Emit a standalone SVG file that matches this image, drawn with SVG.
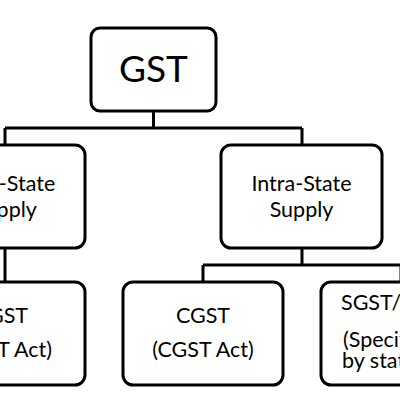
<svg xmlns="http://www.w3.org/2000/svg" width="400" height="400" viewBox="0 0 400 400">
<style>
.box{fill:#fff;stroke:#000;stroke-width:3}
.ln{fill:none;stroke:#000;stroke-width:3}
text{font-family:Lato,"Open Sans",sans-serif;fill:#000;font-size:21.5px;text-anchor:middle}
.s{text-anchor:start}
</style>
<rect width="400" height="400" fill="#fff"/>
<g id="connectors" class="ln">
<path d="M153.5,111 V128 M5,128 H302 M5,128 V145 M302,128 V145"/>
<path d="M5,248 V282 M302,248 V265 M203,265 H410 M203,265 V282 M401,265 V282"/>
</g>
<g id="gst"><rect class="box" x="91" y="28" width="125" height="83" rx="9"/><text x="153.5" y="82" style="font-size:37px">GST</text></g>
<g id="inter"><rect class="box" x="-75" y="145" width="160" height="103" rx="10"/><text x="5" y="191">Inter-State</text><text x="5" y="217">Supply</text></g>
<g id="intra"><rect class="box" x="221" y="145" width="161" height="103" rx="10"/><text x="301.5" y="191">Intra-State</text><text x="301.5" y="217">Supply</text></g>
<g id="igst"><rect class="box" x="-75" y="282" width="160" height="103" rx="10"/><text x="5" y="323">IGST</text><text x="5" y="357">(IGST Act)</text></g>
<g id="cgst"><rect class="box" x="123" y="282" width="160" height="103" rx="10"/><text x="203" y="323">CGST</text><text x="203" y="357">(CGST Act)</text></g>
<g id="sgst"><rect class="box" x="321" y="282" width="160" height="103" rx="10"/><text class="s" x="341" y="310">SGST/UTGST</text><text class="s" x="343" y="347">(Specified</text><text class="s" x="342" y="368">by state/UT)</text></g>
</svg>
